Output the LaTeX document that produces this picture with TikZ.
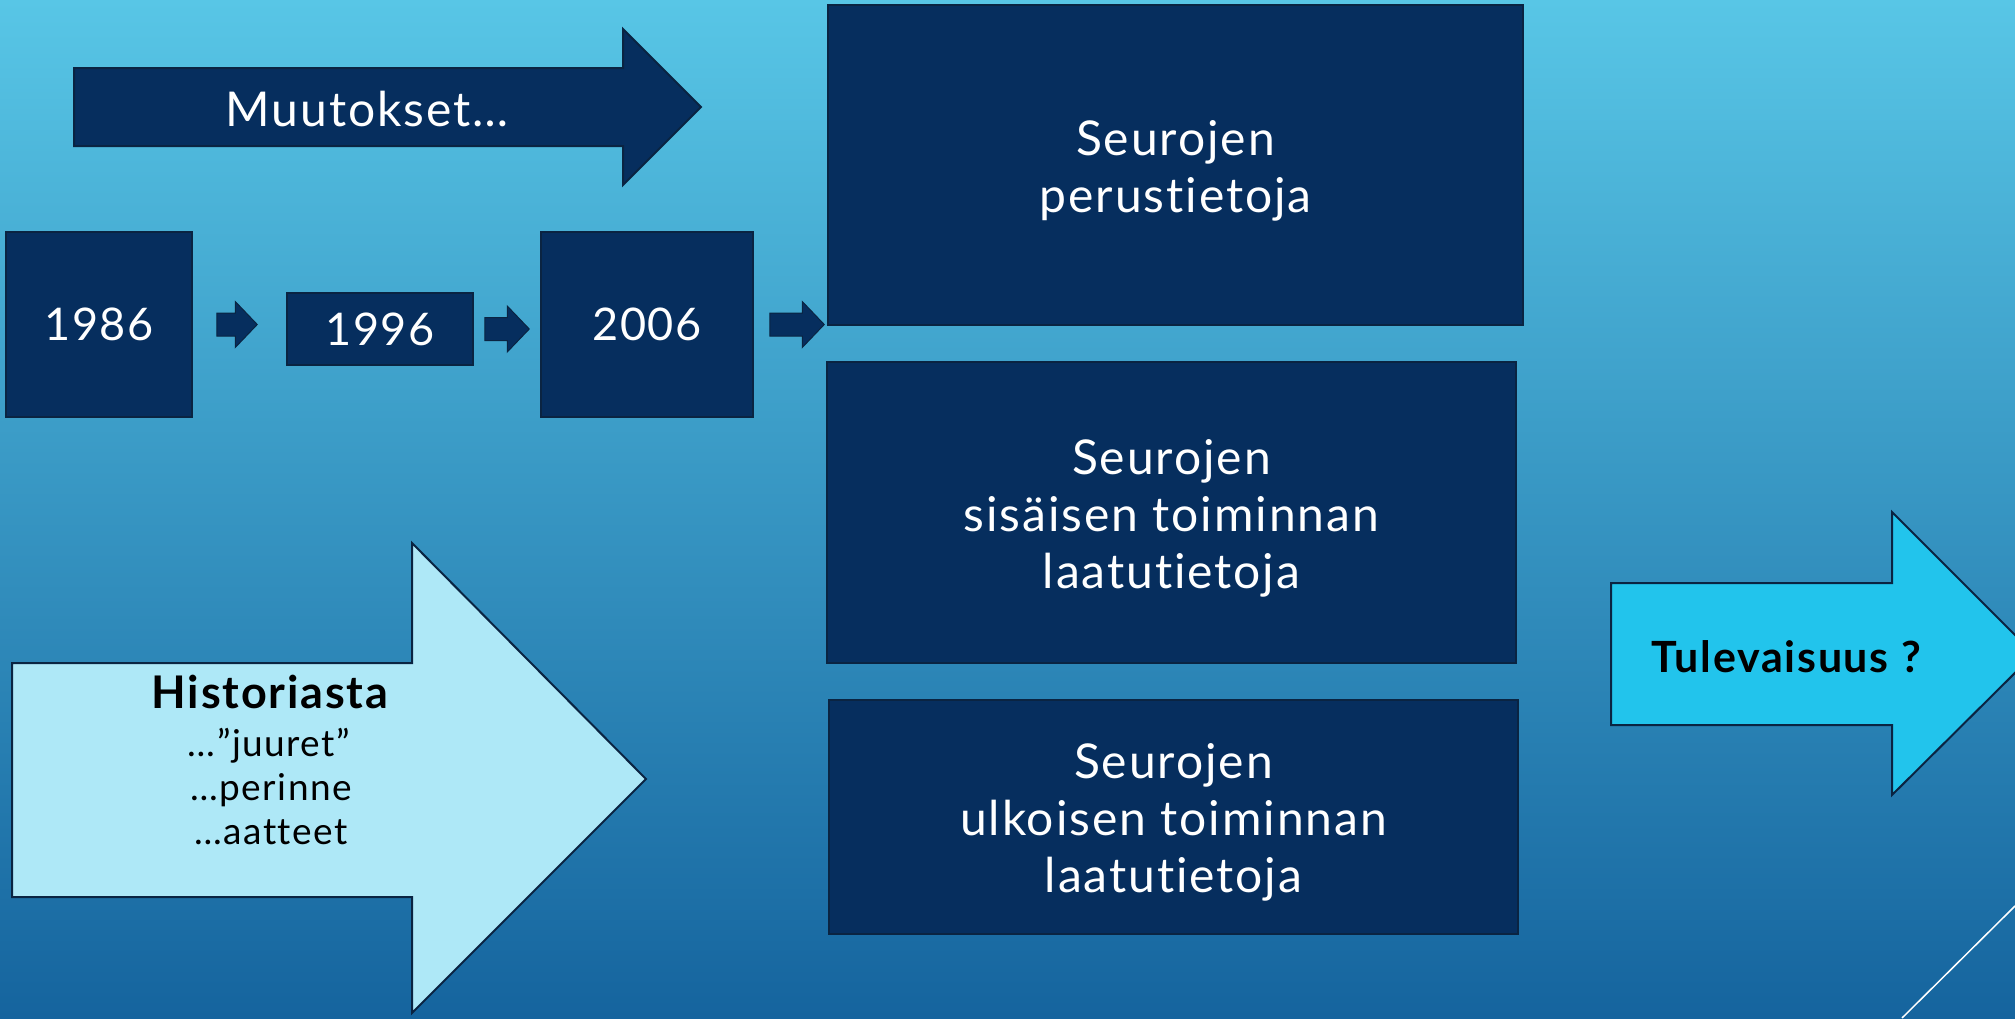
\documentclass[tikz,border=0pt]{standalone}
\usepackage{fontspec}
\setmainfont{Lato}[Ligatures=NoCommon, LetterSpace=4]
\usetikzlibrary{calc}
\pgfdeclarelayer{bg}
\pgfsetlayers{bg,main}
\definecolor{navy}{RGB}{6,46,94}
\definecolor{navyline}{RGB}{10,36,66}
\definecolor{pale}{RGB}{174,232,247}
\definecolor{brightcyan}{RGB}{34,196,236}
\definecolor{skytop}{RGB}{88,198,230}
\definecolor{skybot}{RGB}{21,100,158}
\newcommand{\toprule}{\rule{0pt}{46pt}}
\tikzset{
  darkbox/.style={draw=navyline, line width=1.5pt, fill=navy, text=white, inner sep=0pt,
    align=center, font=\fontsize{48}{57}\selectfont},
  yearbox/.style={darkbox, font=\fontsize{45}{55}\selectfont},
  bigarrow/.style={draw=navyline, line width=2pt, line join=miter},
  fat/.style={draw=navyline, line width=1pt, fill=navy, to path={
    let \p1=(\tikztostart), \p2=(\tikztotarget) in
    (\x1,\y1-11.5) -- (\x2-22,\y1-11.5) -- (\x2-22,\y1-23) -- (\x2,\y1)
    -- (\x2-22,\y1+23) -- (\x2-22,\y1+11.5) -- (\x1,\y1+11.5) -- cycle}},
}
\begin{document}
\begin{tikzpicture}[x=1pt,y=-1pt]
        \path[use as bounding box, clip] (0,0) rectangle (2015,1018);
        \node[yearbox, minimum width=186, minimum height=185] (y1986) at (99,324.5) {1986};
        \node[yearbox, minimum width=186, minimum height=72] (y1996) at (380,329) {1996};
        \node[yearbox, minimum width=212, minimum height=185] (y2006) at (647,324.5) {2006};
        \node[darkbox, minimum width=695, minimum height=320] (perus) at (1175.5,165) {\toprule Seurojen\\perustietoja};
        \node[darkbox, minimum width=689, minimum height=301] (sisa) at (1171.5,512.5) {\toprule Seurojen\\sisäisen toiminnan\\laatutietoja};
        \node[darkbox, minimum width=689, minimum height=234] (ulko) at (1173.5,817) {\toprule Seurojen\\ulkoisen toiminnan\\laatutietoja};
        \node[anchor=base, text=white, font=\fontsize{48}{56}\selectfont] (muut) at (367,126) {Muutokset…};
        \node[anchor=base, font=\bfseries\fontsize{45}{50}\selectfont] (hist) at (270,708) {Historiasta};
        \node[anchor=base, font=\fontsize{37}{44}\selectfont] (juuret) at (269,756) {…”juuret”};
        \node[anchor=base, font=\fontsize{37}{44}\selectfont] (perinne) at (271,800) {…perinne};
        \node[anchor=base, font=\fontsize{37}{44}\selectfont] (aatteet) at (271,844) {…aatteet};
        \node[anchor=base, font=\bfseries\fontsize{43}{50}\selectfont] (tulev) at (1786,672) {Tulevaisuus ?};
        \begin{pgfonlayer}{bg}
                \shade[top color=skytop, bottom color=skybot] (0,0) rectangle (2015,1018);
                \draw[white, line width=1.5pt] (1902,1018) -- (2015,906);
                \draw[bigarrow, fill=navy] (74,68) -- (623,68) -- (623,29) -- (701,107) -- (623,185) -- (623,146) -- (74,146) -- cycle;
                \draw[bigarrow, fill=pale] (12,663) -- (412,663) -- (412,543) -- (646,779) -- (412,1013) -- (412,897) -- (12,897) -- cycle;
                \draw[bigarrow, fill=brightcyan] (1611,583) -- (1892,583) -- (1892,512) -- (2034,654) -- (1892,795) -- (1892,725) -- (1611,725) -- cycle;
                \draw[fat] ([xshift=24]y1986.east) to ([xshift=-29]y1996.west);
                \draw[fat] ([xshift=11]y1996.east) to ([xshift=-11]y2006.west);
                \draw[fat] ([xshift=16]y2006.east) to ([xshift=-3]perus.west);
        \end{pgfonlayer}
\end{tikzpicture}
\end{document}
